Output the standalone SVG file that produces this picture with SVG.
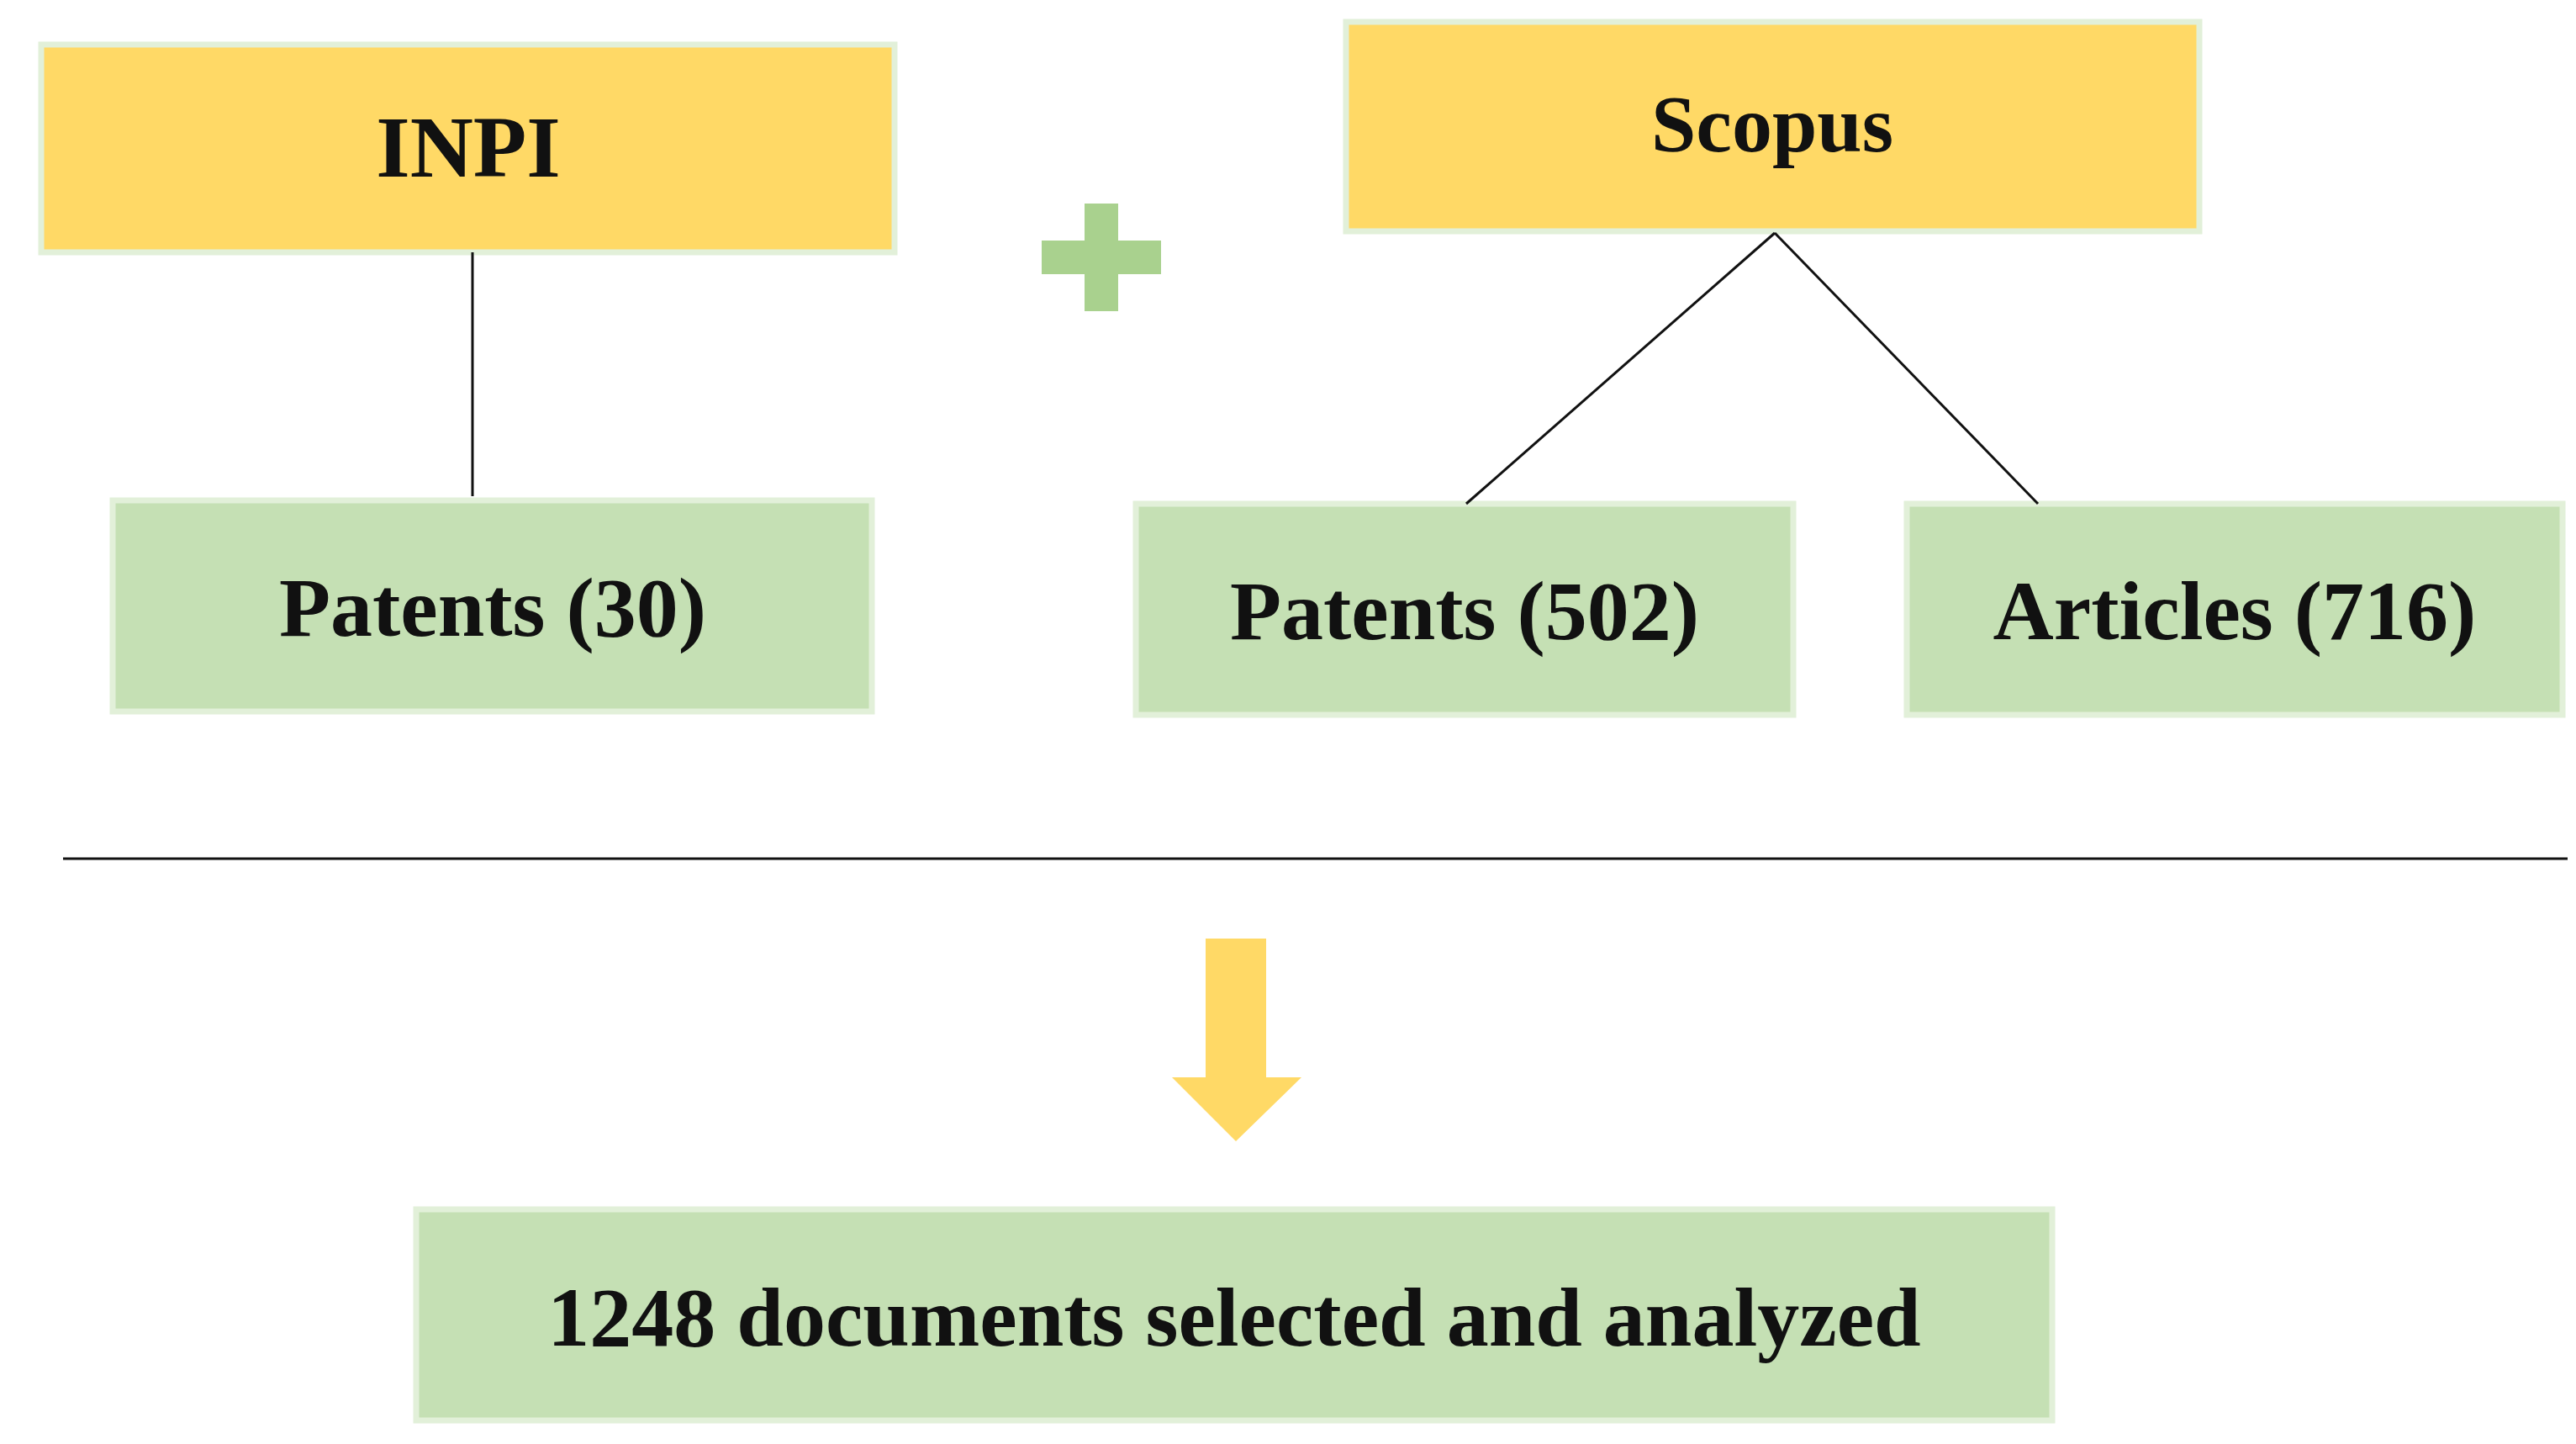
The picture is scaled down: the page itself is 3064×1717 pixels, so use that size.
<svg xmlns="http://www.w3.org/2000/svg" width="3064" height="1717" viewBox="0 0 3064 1717">
<style>
.y{fill:#FFD966;stroke:#E2F0D9;stroke-width:7}
.g{fill:#C5E0B4;stroke:#E2F0D9;stroke-width:7}
text{font-family:"Liberation Serif",serif;font-weight:bold;fill:#111;text-anchor:middle}
.c{stroke:#111;stroke-width:3;fill:none}
</style>
<rect width="3064" height="1717" fill="#fff"/>
<g id="inpi"><rect class="y" x="49" y="53" width="1015" height="247"/><text x="557" y="210" font-size="104">INPI</text></g>
<g id="scopus"><rect class="y" x="1601" y="26" width="1015" height="249"/><text x="2108" y="180" font-size="96">Scopus</text></g>
<g id="plus"><rect x="1290" y="242" width="40" height="128" fill="#A9D18E"/><rect x="1239" y="286" width="142" height="40" fill="#A9D18E"/></g>
<g id="patents30"><rect class="g" x="134" y="595" width="903" height="251"/><text x="586" y="756" font-size="100">Patents (30)</text></g>
<g id="patents502"><rect class="g" x="1351" y="599" width="782" height="251"/><text x="1742" y="760" font-size="100">Patents (502)</text></g>
<g id="articles"><rect class="g" x="2268" y="599" width="780" height="251"/><text x="2658" y="760" font-size="100">Articles (716)</text></g>
<g id="result"><rect class="g" x="495" y="1438" width="1946" height="251"/><text x="1468" y="1600" font-size="100">1248 documents selected and analyzed</text></g>
<g id="connectors">
<line class="c" x1="562" y1="300" x2="562" y2="590"/>
<line class="c" x1="2111" y1="277" x2="1744" y2="599"/>
<line class="c" x1="2111" y1="277" x2="2424" y2="599"/>
<line class="c" x1="75" y1="1021" x2="3054" y2="1021"/>
<polygon points="1434,1116 1506,1116 1506,1281 1548,1281 1470,1357 1394,1281 1434,1281" fill="#FFD966"/>
</g>
</svg>
